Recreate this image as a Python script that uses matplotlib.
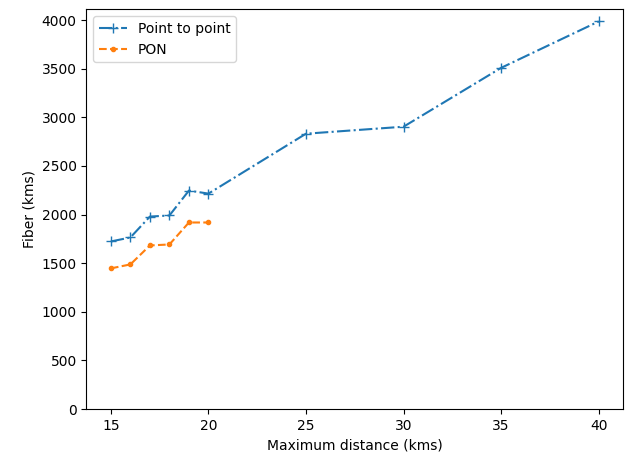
import matplotlib.pyplot as plt

# distances (kms)
dist_p2p = [15, 16, 17, 18, 19, 20, 25, 30, 35, 40]
fiber_p2p = [1723, 1764, 1979, 1990, 2246, 2215, 2831, 2903, 3508, 3985]

dist_pon = [15, 16, 17, 18, 19, 20]
fiber_pon = [1446, 1487, 1682, 1692, 1918, 1918]

fig = plt.figure(figsize=(6.29, 4.57), dpi=100)
ax = fig.add_subplot(111)
fig.subplots_adjust(left=0.1375, right=0.9905, top=0.980, bottom=0.105)

ax.plot(dist_p2p, fiber_p2p, '+-.', label='Point to point', markersize=7)
ax.plot(dist_pon, fiber_pon, '.--', label='PON')

ax.set_xlabel("Maximum distance (kms)")
ax.set_ylabel("Fiber (kms)")
ax.set_ylim(0, None)
ax.legend()

plt.savefig("out.png")
